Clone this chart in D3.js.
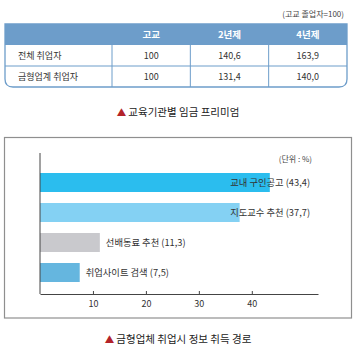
<!DOCTYPE html>
<html><head><meta charset="utf-8">
<script src="https://cdn.jsdelivr.net/npm/d3@7"></script>
<style>
body{margin:0;background:#fff;}
svg{display:block;font-family:"Noto Sans CJK KR","Noto Sans",sans-serif;}
</style></head>
<body>
<svg id="c" width="356" height="353"></svg>
<script>
// ---- data ----
const tableColumns = ["고교", "2년제", "4년제"];
const tableRows = ["전체 취업자", "금형업계 취업자"];
const rowAll = ["100", "140,6", "163,9"];
const rowMold = ["100", "131,4", "140,0"];
const tableNote = "(고교 졸업자=100)";
const title1 = "교육기관별 임금 프리미엄";

const categories = ["교내 구인공고", "지도교수 추천", "선배동료 추천", "취업사이트 검색"];
const values = [43.4, 37.7, 11.3, 7.5];
const valueLabels = ["43,4", "37,7", "11,3", "7,5"];
const barColors = ["#2bbdee", "#84d1f3", "#c9c9cd", "#65b6df"];
const xTicks = [10, 20, 30, 40];
const unitNote = "(단위 : %)";
const title2 = "금형업체 취업시 정보 취득 경로";

const svg = d3.select("#c");
const blue = "#6d9dca";

// ---- table ----
const tL = 5, tR = 347, tTop = 24, labelColR = 112;
const rowY = d3.scaleBand().domain(["h", ...tableRows]).range([tTop, 87]);
const colX = d3.scaleBand().domain(tableColumns).range([labelColR, tR]);
const tB = 87, r = 8;

svg.append("text").attr("x", 344).attr("y", 17).attr("text-anchor", "end")
  .attr("font-size", 8).attr("fill", "#444").text(tableNote);

// body background with rounded bottom corners
svg.append("path")
  .attr("d", `M${tL},${tTop} H${tR} V${tB - r} Q${tR},${tB} ${tR - r},${tB} H${tL + r} Q${tL},${tB} ${tL},${tB - r} Z`)
  .attr("fill", "#fff").attr("stroke", blue).attr("stroke-width", 1.3);
// header
svg.append("rect").attr("x", tL).attr("y", tTop).attr("width", tR - tL).attr("height", rowY.bandwidth())
  .attr("fill", blue);
// row divider
svg.append("line").attr("x1", tL).attr("x2", tR)
  .attr("y1", rowY(tableRows[1])).attr("y2", rowY(tableRows[1]))
  .attr("stroke", blue).attr("stroke-width", 1);
// vertical dividers
const vx = [labelColR, ...tableColumns.slice(1).map(c => colX(c))];
svg.selectAll("line.v").data(vx).join("line").attr("class", "v")
  .attr("x1", d => d).attr("x2", d => d)
  .attr("y1", rowY(tableRows[0])).attr("y2", tB)
  .attr("stroke", blue).attr("stroke-width", 1);
// header texts
svg.selectAll("text.h").data(tableColumns).join("text").attr("class", "h")
  .attr("x", d => colX(d) + colX.bandwidth() / 2)
  .attr("y", rowY("h") + rowY.bandwidth() / 2 + 3.5)
  .attr("text-anchor", "middle").attr("font-size", 9.5).attr("font-weight", "bold")
  .attr("fill", "#fff").text(d => d);
// row labels & values
[rowAll, rowMold].forEach((vals, i) => {
  const yy = rowY(tableRows[i]) + rowY.bandwidth() / 2 + 3.5;
  svg.append("text").attr("x", 18).attr("y", yy).attr("font-size", 9).attr("fill", "#333").text(tableRows[i]);
  svg.selectAll(null).data(vals).join("text")
    .attr("x", (d, j) => colX(tableColumns[j]) + colX.bandwidth() / 2)
    .attr("y", yy).attr("text-anchor", "middle").attr("font-size", 9).attr("fill", "#333").text(d => d);
});

// titles
function caption(y, txt) {
  const t = svg.append("text").attr("x", 178).attr("y", y).attr("text-anchor", "middle")
    .attr("font-size", 10.5).attr("fill", "#222");
  t.append("tspan").attr("fill", "#b3232a").attr("font-size", 9.5).text("▲ ");
  t.append("tspan").text(txt);
}
caption(116, title1);

// ---- bar chart ----
svg.append("rect").attr("x", 4.5).attr("y", 137.5).attr("width", 347).attr("height", 180.5)
  .attr("fill", "#fff").attr("stroke", "#8f8f8f").attr("stroke-width", 1.2);

const x = d3.scaleLinear().domain([0, 52.5]).range([40, 318]);
const y = d3.scaleBand().domain(categories).range([167.5, 287.5]).paddingInner(0.3667).paddingOuter(0.1833);

svg.selectAll("rect.bar").data(categories).join("rect").attr("class", "bar")
  .attr("x", x(0)).attr("y", d => y(d))
  .attr("width", (d, i) => x(values[i]) - x(0)).attr("height", y.bandwidth())
  .attr("fill", (d, i) => barColors[i]);

svg.selectAll("text.bl").data(categories).join("text").attr("class", "bl")
  .attr("x", (d, i) => values[i] > 20 ? x(51) : x(values[i]) + 6)
  .attr("y", d => y(d) + y.bandwidth() / 2 + 3.5)
  .attr("text-anchor", (d, i) => values[i] > 20 ? "end" : "start")
  .attr("font-size", 9.3).attr("fill", "#333")
  .text((d, i) => `${d} (${valueLabels[i]})`);

const ax = svg.append("g").attr("transform", "translate(0,294)")
  .call(d3.axisBottom(x).tickValues(xTicks).tickSizeInner(-3).tickSizeOuter(0).tickPadding(7));
ax.select(".domain").attr("stroke", "#444");
ax.selectAll(".tick line").attr("stroke", "#444");
ax.selectAll(".tick text").attr("font-size", 9).attr("fill", "#333")
  .attr("font-family", "\"Noto Sans CJK KR\",sans-serif");

svg.append("line").attr("x1", x(0)).attr("x2", x(0)).attr("y1", 153).attr("y2", 294)
  .attr("stroke", "#444").attr("stroke-width", 1);

svg.append("text").attr("x", 312).attr("y", 162).attr("text-anchor", "end")
  .attr("font-size", 8).attr("fill", "#444").text(unitNote);

caption(343, title2);
</script>
</body></html>
